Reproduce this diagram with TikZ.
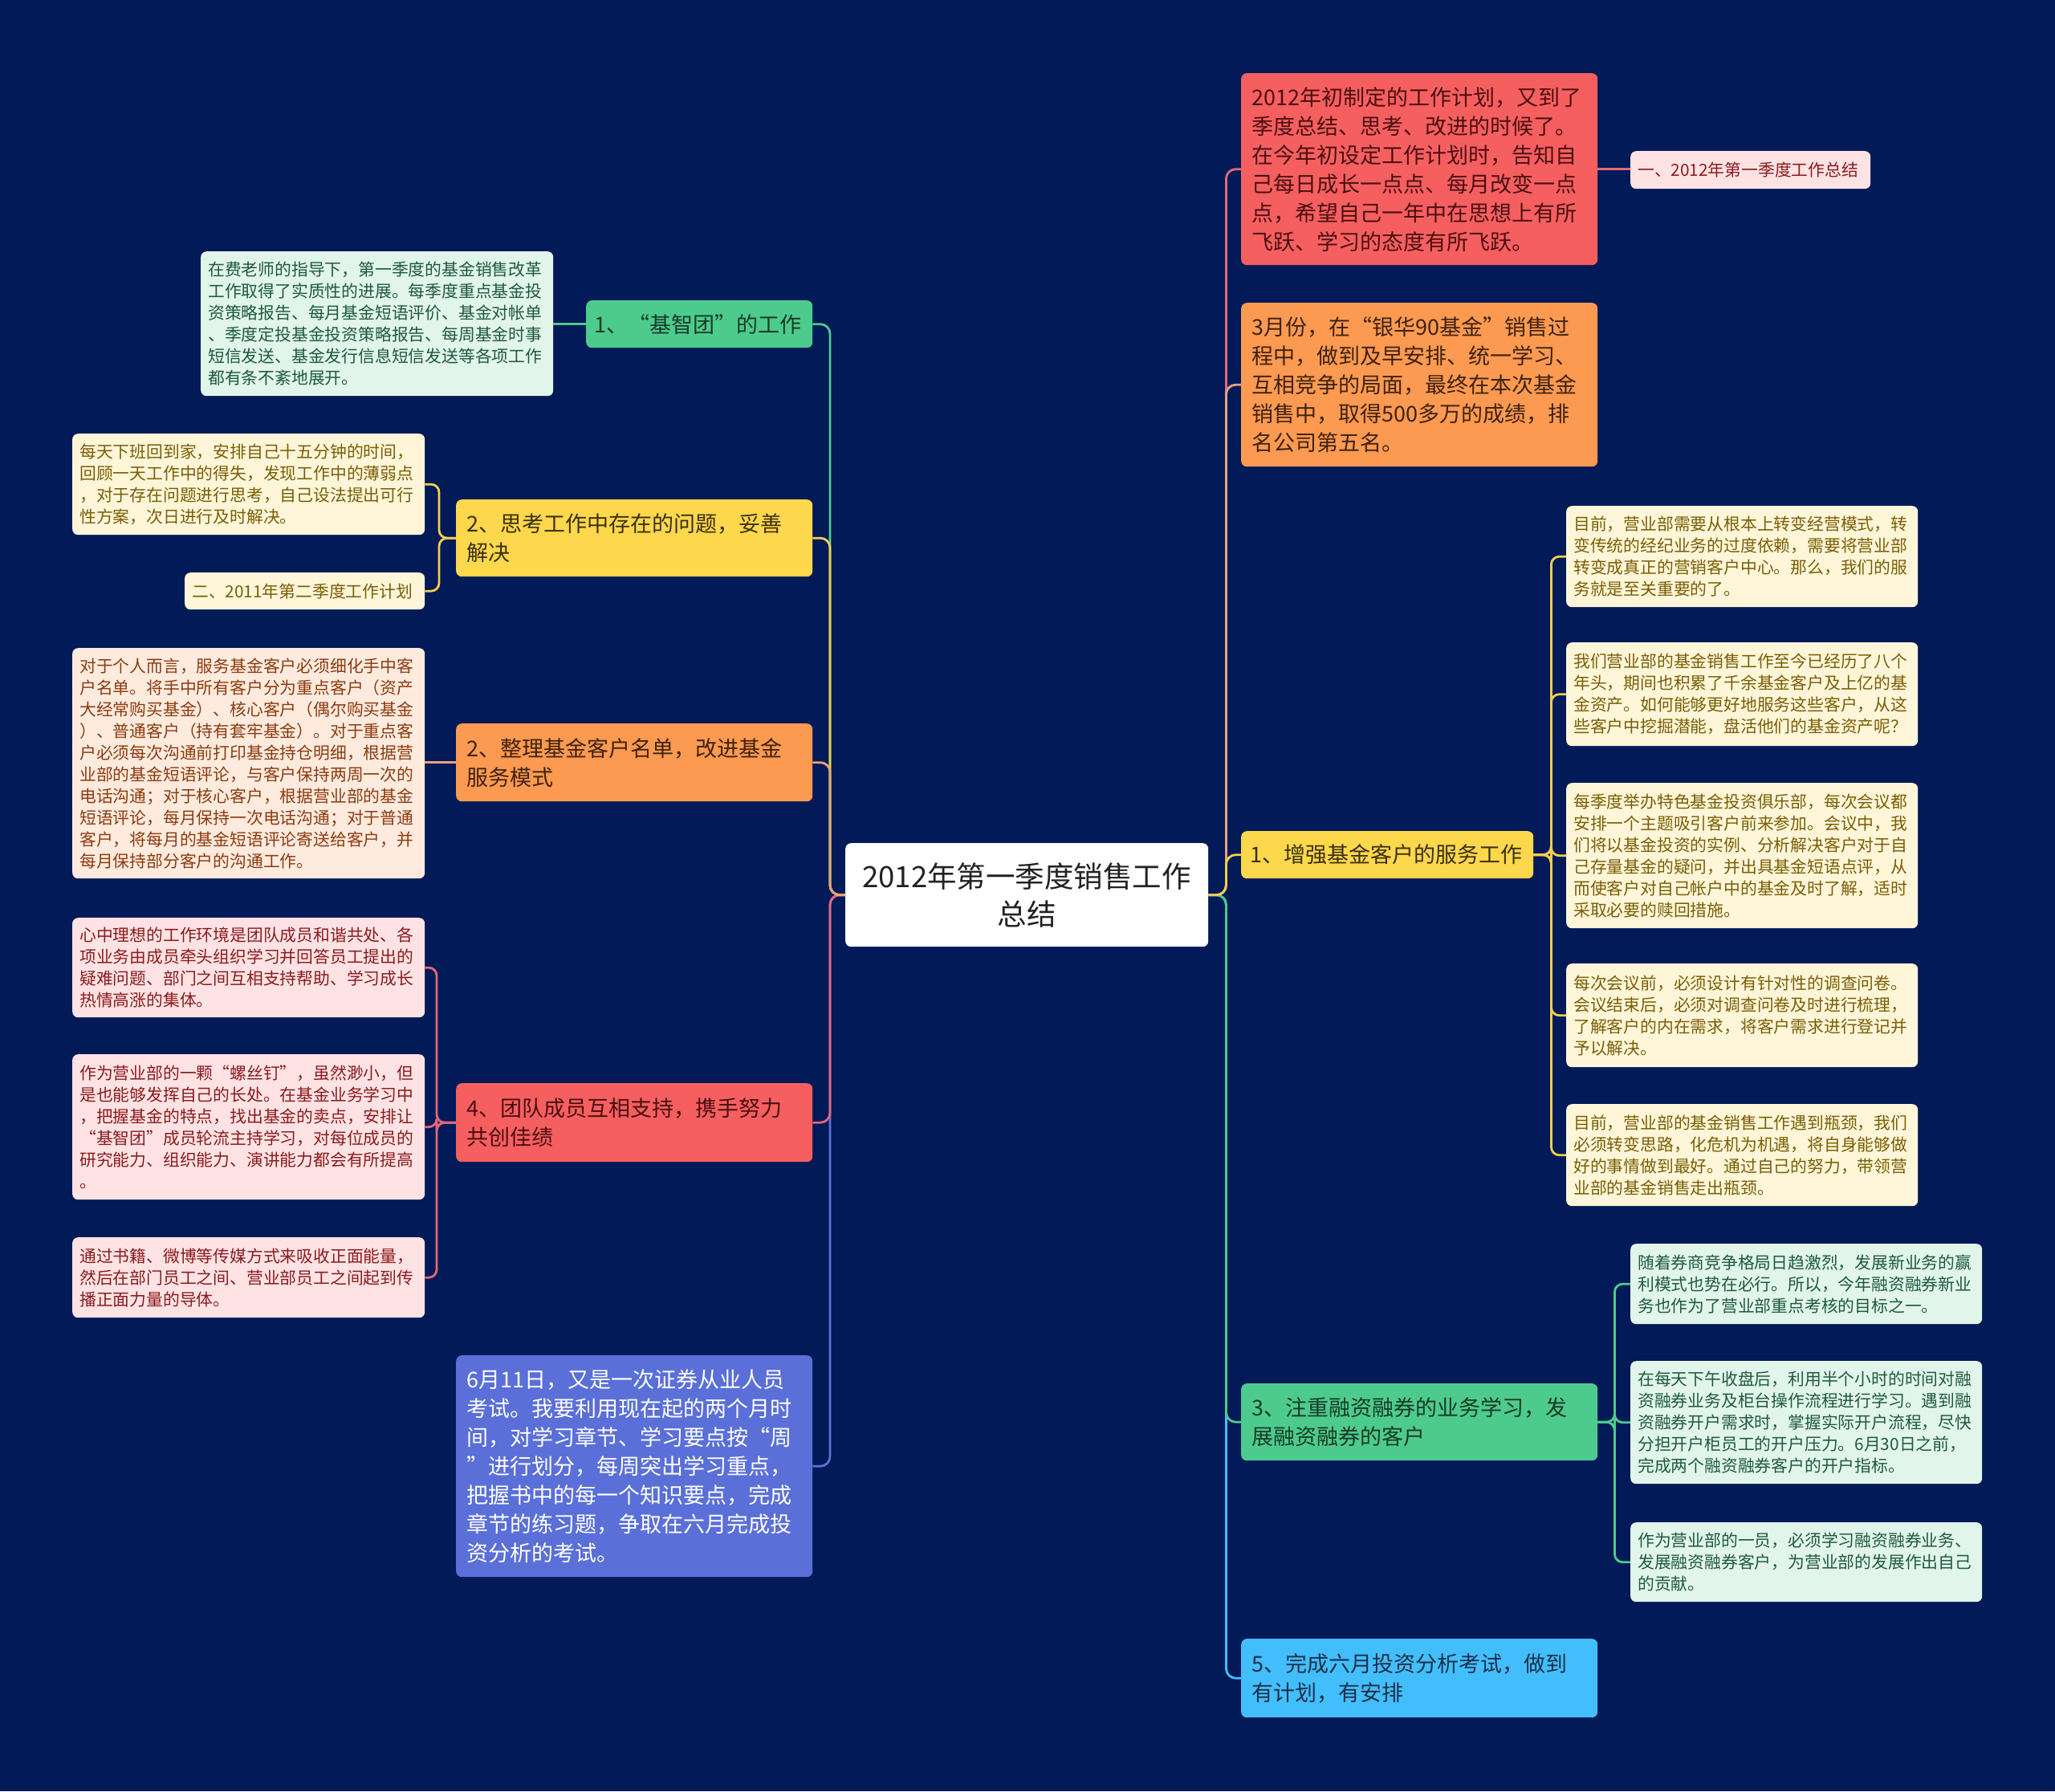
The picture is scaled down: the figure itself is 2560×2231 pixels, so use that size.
\documentclass[tikz,border=0pt]{standalone}
\usepackage{fontspec}
\setmainfont{Noto Sans CJK SC}
\definecolor{bg}{HTML}{021A57}
\definecolor{cG}{HTML}{4DCB8C}
\definecolor{cGl}{HTML}{E1F5EB}
\definecolor{cY}{HTML}{FDD74C}
\definecolor{cYl}{HTML}{FFF6D9}
\definecolor{cO}{HTML}{FC9A52}
\definecolor{cOl}{HTML}{FFEBDE}
\definecolor{cR}{HTML}{F65F60}
\definecolor{cRl}{HTML}{FFE3E4}
\definecolor{cB}{HTML}{5A6FD8}
\definecolor{cLB}{HTML}{43BEFD}
\definecolor{tGd}{HTML}{173A28}
\definecolor{tGl}{HTML}{1F5A3C}
\definecolor{tYd}{HTML}{3A3010}
\definecolor{tYl}{HTML}{7A5E06}
\definecolor{tOd}{HTML}{3F220C}
\definecolor{tOl}{HTML}{8C3B10}
\definecolor{tRd}{HTML}{4A0E10}
\definecolor{tRl}{HTML}{8B1B1E}
\definecolor{tLB}{HTML}{16304A}
\definecolor{tRoot}{HTML}{222222}
\definecolor{lG}{HTML}{4DCB8C}
\definecolor{lY}{HTML}{F2CF4E}
\definecolor{lO}{HTML}{E9A27C}
\definecolor{lR}{HTML}{E56777}
\definecolor{lB}{HTML}{5D6FD6}
\definecolor{lLB}{HTML}{43BEFD}
\newcommand\MyRootF{\fontsize{36.5}{47}\selectfont}
\newcommand\MyMainF{\fontsize{27}{36}\selectfont}
\newcommand\MyLeafF{\fontsize{20.8}{27}\selectfont}
\tikzset{
  basebox/.style={anchor=north west, rounded corners=7pt, inner ysep=0pt, align=left},
  mainbox/.style={basebox, inner xsep=13pt, font=\MyMainF},
  leafbox/.style={basebox, inner xsep=9pt, font=\MyLeafF},
  conn/.style={line width=2.8pt, rounded corners=12pt},
}
\begin{document}
\begin{tikzpicture}[x=1pt,y=-1pt]
\fill[bg] (0,0) rectangle (2560,2231);
\useasboundingbox (0,0) rectangle (2560,2231);

% root
\node[basebox, align=center, inner xsep=10pt, font=\MyRootF, fill=white, text=tRoot, text width=432pt, minimum height=129pt] (root) at (1053,1050) {2012年第一季度销售工作\\总结};

% left main nodes
\node[mainbox, inner xsep=10pt, fill=cG, text=tGd, text width=262pt, minimum height=59pt] (L1) at (730,374) {1、“基智团”的工作};
\node[mainbox, fill=cY, text=tYd, text width=418pt, minimum height=96pt] (L2) at (568,622) {2、思考工作中存在的问题，妥善\\解决};
\node[mainbox, fill=cO, text=tOd, text width=418pt, minimum height=97pt] (L3) at (568,901) {2、整理基金客户名单，改进基金\\服务模式};
\node[mainbox, fill=cR, text=tRd, text width=418pt, minimum height=98pt] (L4) at (568,1349) {4、团队成员互相支持，携手努力\\共创佳绩};
\node[mainbox, fill=cB, text=white, text width=418pt, minimum height=276pt] (L5) at (568,1688) {6月11日，又是一次证券从业人员\\考试。我要利用现在起的两个月时\\间，对学习章节、学习要点按“周\\”进行划分，每周突出学习重点，\\把握书中的每一个知识要点，完成\\章节的练习题，争取在六月完成投\\资分析的考试。};

% left leaves
\node[leafbox, fill=cGl, text=tGl, text width=421pt, minimum height=180pt] (L1a) at (250,313) {在费老师的指导下，第一季度的基金销售改革\\工作取得了实质性的进展。每季度重点基金投\\资策略报告、每月基金短语评价、基金对帐单\\、季度定投基金投资策略报告、每周基金时事\\短信发送、基金发行信息短信发送等各项工作\\都有条不紊地展开。};
\node[leafbox, fill=cYl, text=tYl, text width=421pt, minimum height=126pt] (L2a) at (90,540) {每天下班回到家，安排自己十五分钟的时间，\\回顾一天工作中的得失，发现工作中的薄弱点\\，对于存在问题进行思考，自己设法提出可行\\性方案，次日进行及时解决。};
\node[leafbox, fill=cYl, text=tYl, text width=281pt, minimum height=46pt] (L2b) at (230,713) {二、2011年第二季度工作计划};
\node[leafbox, fill=cOl, text=tOl, text width=421pt, minimum height=287pt] (L3a) at (90,807) {对于个人而言，服务基金客户必须细化手中客\\户名单。将手中所有客户分为重点客户（资产\\大经常购买基金）、核心客户（偶尔购买基金\\）、普通客户（持有套牢基金）。对于重点客\\户必须每次沟通前打印基金持仓明细，根据营\\业部的基金短语评论，与客户保持两周一次的\\电话沟通；对于核心客户，根据营业部的基金\\短语评论，每月保持一次电话沟通；对于普通\\客户，将每月的基金短语评论寄送给客户，并\\每月保持部分客户的沟通工作。};
\node[leafbox, fill=cRl, text=tRl, text width=421pt, minimum height=124pt] (L4a) at (90,1143) {心中理想的工作环境是团队成员和谐共处、各\\项业务由成员牵头组织学习并回答员工提出的\\疑难问题、部门之间互相支持帮助、学习成长\\热情高涨的集体。};
\node[leafbox, fill=cRl, text=tRl, text width=421pt, minimum height=181pt] (L4b) at (90,1313) {作为营业部的一颗“螺丝钉”，虽然渺小，但\\是也能够发挥自己的长处。在基金业务学习中\\，把握基金的特点，找出基金的卖点，安排让\\“基智团”成员轮流主持学习，对每位成员的\\研究能力、组织能力、演讲能力都会有所提高\\。};
\node[leafbox, fill=cRl, text=tRl, text width=421pt, minimum height=100pt] (L4c) at (90,1541) {通过书籍、微博等传媒方式来吸收正面能量，\\然后在部门员工之间、营业部员工之间起到传\\播正面力量的导体。};

% right main nodes
\node[mainbox, fill=cR, text=tRd, text width=418pt, minimum height=239pt] (R1) at (1546,91) {2012年初制定的工作计划，又到了\\季度总结、思考、改进的时候了。\\在今年初设定工作计划时，告知自\\己每日成长一点点、每月改变一点\\点，希望自己一年中在思想上有所\\飞跃、学习的态度有所飞跃。};
\node[mainbox, fill=cO, text=tOd, text width=418pt, minimum height=204pt] (R2) at (1546,377) {3月份，在“银华90基金”销售过\\程中，做到及早安排、统一学习、\\互相竞争的局面，最终在本次基金\\销售中，取得500多万的成绩，排\\名公司第五名。};
\node[mainbox, inner xsep=11pt, fill=cY, text=tYd, text width=342pt, minimum height=59pt] (R3) at (1546,1035) {1、增强基金客户的服务工作};
\node[mainbox, fill=cG, text=tGd, text width=418pt, minimum height=96pt] (R4) at (1546,1723) {3、注重融资融券的业务学习，发\\展融资融券的客户};
\node[mainbox, fill=cLB, text=tLB, text width=418pt, minimum height=98pt] (R5) at (1546,2041) {5、完成六月投资分析考试，做到\\有计划，有安排};

% right leaves
\node[leafbox, fill=cRl, text=tRl, text width=281pt, minimum height=47pt] (R1a) at (2031,188) {一、2012年第一季度工作总结};
\node[leafbox, fill=cYl, text=tYl, text width=420pt, minimum height=126pt] (R3a) at (1951,630) {目前，营业部需要从根本上转变经营模式，转\\变传统的经纪业务的过度依赖，需要将营业部\\转变成真正的营销客户中心。那么，我们的服\\务就是至关重要的了。};
\node[leafbox, fill=cYl, text=tYl, text width=420pt, minimum height=129pt] (R3b) at (1951,800) {我们营业部的基金销售工作至今已经历了八个\\年头，期间也积累了千余基金客户及上亿的基\\金资产。如何能够更好地服务这些客户，从这\\些客户中挖掘潜能，盘活他们的基金资产呢？};
\node[leafbox, fill=cYl, text=tYl, text width=420pt, minimum height=181pt] (R3c) at (1951,975) {每季度举办特色基金投资俱乐部，每次会议都\\安排一个主题吸引客户前来参加。会议中，我\\们将以基金投资的实例、分析解决客户对于自\\己存量基金的疑问，并出具基金短语点评，从\\而使客户对自己帐户中的基金及时了解，适时\\采取必要的赎回措施。};
\node[leafbox, fill=cYl, text=tYl, text width=420pt, minimum height=129pt] (R3d) at (1951,1200) {每次会议前，必须设计有针对性的调查问卷。\\会议结束后，必须对调查问卷及时进行梳理，\\了解客户的内在需求，将客户需求进行登记并\\予以解决。};
\node[leafbox, fill=cYl, text=tYl, text width=420pt, minimum height=127pt] (R3e) at (1951,1375) {目前，营业部的基金销售工作遇到瓶颈，我们\\必须转变思路，化危机为机遇，将自身能够做\\好的事情做到最好。通过自己的努力，带领营\\业部的基金销售走出瓶颈。};
\node[leafbox, fill=cGl, text=tGl, text width=420pt, minimum height=100pt] (R4a) at (2031,1549) {随着券商竞争格局日趋激烈，发展新业务的赢\\利模式也势在必行。所以，今年融资融券新业\\务也作为了营业部重点考核的目标之一。};
\node[leafbox, fill=cGl, text=tGl, text width=420pt, minimum height=153pt] (R4b) at (2031,1695) {在每天下午收盘后，利用半个小时的时间对融\\资融券业务及柜台操作流程进行学习。遇到融\\资融券开户需求时，掌握实际开户流程，尽快\\分担开户柜员工的开户压力。6月30日之前，\\完成两个融资融券客户的开户指标。};
\node[leafbox, fill=cGl, text=tGl, text width=420pt, minimum height=99pt] (R4c) at (2031,1896) {作为营业部的一员，必须学习融资融券业务、\\发展融资融券客户，为营业部的发展作出自己\\的贡献。};

% trunk coordinates
\coordinate (LT) at ([xshift=-19pt]root.west);
\coordinate (RT) at ([xshift=22pt]root.east);
\coordinate (L2T) at ([xshift=-21pt]L2.west);
\coordinate (L4T) at ([xshift=-24pt]L4.west);
\coordinate (R3T) at ([xshift=22pt]R3.east);
\coordinate (R4T) at ([xshift=21pt]R4.east);

% root -> left branches
\draw[conn, lB] (root.west) -- (LT) |- (L5.east);
\draw[conn, lR] (root.west) -- (LT) |- (L4.east);
\draw[conn, lG] (root.west) -- (LT) |- (L1.east);
\draw[conn, lY] (root.west) -- (LT) |- (L2.east);
\draw[conn, lO] (root.west) -- (LT) |- (L3.east);

% root -> right branches
\draw[conn, lR] (root.east) -- (RT) |- (R1.west);
\draw[conn, lO] (root.east) -- (RT) |- (R2.west);
\draw[conn, lLB] (root.east) -- (RT) |- (R5.west);
\draw[conn, lG] (root.east) -- (RT) |- (R4.west);
\draw[conn, lY] (root.east) -- (RT) |- (R3.west);

% left children
\draw[conn, lG] (L1.west) -- (L1.west -| L1a.east);
\draw[conn, lY, rounded corners=10pt] (L2.west) -- (L2T) |- (L2a.east);
\draw[conn, lY, rounded corners=10pt] (L2.west) -- (L2T) |- (L2b.east);
\draw[conn, lO] (L3.west) -- (L3.west -| L3a.east);
\draw[conn, lR, rounded corners=10pt] (L4.west) -- (L4T) |- (L4a.east);
\draw[conn, lR, rounded corners=10pt] (L4.west) -- (L4T) |- (L4b.east);
\draw[conn, lR, rounded corners=10pt] (L4.west) -- (L4T) |- (L4c.east);

% right children
\draw[conn, lR] (R1.east) -- (R1.east -| R1a.west);
\draw[conn, lY, rounded corners=10pt] (R3.east) -- (R3T) |- (R3a.west);
\draw[conn, lY, rounded corners=10pt] (R3.east) -- (R3T) |- (R3b.west);
\draw[conn, lY, rounded corners=10pt] (R3.east) -- (R3T) |- (R3c.west);
\draw[conn, lY, rounded corners=10pt] (R3.east) -- (R3T) |- (R3d.west);
\draw[conn, lY, rounded corners=10pt] (R3.east) -- (R3T) |- (R3e.west);
\draw[conn, lG, rounded corners=10pt] (R4.east) -- (R4T) |- (R4a.west);
\draw[conn, lG, rounded corners=10pt] (R4.east) -- (R4T) |- (R4b.west);
\draw[conn, lG, rounded corners=10pt] (R4.east) -- (R4T) |- (R4c.west);
\end{tikzpicture}
\end{document}
